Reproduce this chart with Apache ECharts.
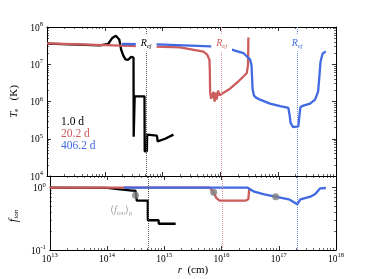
<!DOCTYPE html>
<html><head><meta charset="utf-8">
<script src="https://cdn.jsdelivr.net/npm/echarts@6/dist/echarts.min.js"></script>
<style>html,body{margin:0;padding:0;background:#fff}#c{width:374px;height:279px}</style>
</head><body><div id="c"></div>
<script>
// ---- data ----
const seriesNames = ['1.0 d', '20.2 d', '406.2 d'];
const rBlackT = [1e13, 8.3e13, 1.15e14, 1.35e14, 1.55e14, 1.78e14, 1.92e14, 2.09e14, 2.28e14, 2.54e14, 2.86e14, 3.14e14, 3.16e14, 3.29e14, 4.86e14, 4.9e14, 5.35e14, 5.4e14, 7.96e14, 8.22e14, 1.11e15, 1.54e15];
const TBlack = [3.6e7, 3.2e7, 3.55e7, 5.1e7, 5.8e7, 4.6e7, 2.45e7, 1.7e7, 1.35e7, 1.32e7, 1.58e7, 1.5e7, 1.14e5, 1.38e6, 1.38e6, 4.6e4, 4.6e4, 1.29e5, 1.21e5, 8.5e4, 1.0e5, 1.29e5];
const rRedT = [1e13, 2.0e15, 5.1e15, 5.9e15, 6.46e15, 6.56e15, 6.64e15, 6.92e15, 7.28e15, 7.59e15, 7.94e15, 8.26e15, 8.61e15, 9.12e15, 9.62e15, 1.03e16, 1.47e16, 2.02e16, 2.57e16, 2.86e16, 3.01e16, 3.05e16];
const TRed = [3.63e7, 2.84e7, 2.17e7, 1.81e7, 1.33e7, 7.1e6, 1.73e6, 1.19e6, 1.12e6, 1.82e6, 9.9e5, 1.73e6, 1.12e6, 1.95e6, 1.48e6, 1.51e6, 2.21e6, 3.4e6, 4.93e6, 5.83e6, 9.8e6, 5.25e7];
const rBlueT = [1.98e14, 7.96e14, 6.82e15, 1.57e16, 2.5e16, 3.27e16, 3.45e16, 3.5e16, 3.6e16, 3.8e16, 4.14e16, 4.85e16, 7.23e16, 1.08e17, 1.5e17, 1.57e17, 1.64e17, 1.81e17, 1.95e17, 2.23e17, 2.34e17, 2.43e17, 2.72e17, 3.56e17, 4.34e17, 4.9e17, 5.19e17, 5.4e17, 5.85e17, 6.64e17];
const TBlue = [3.5e7, 3.41e7, 3.01e7, 2.46e7, 2.0e7, 1.33e7, 9.5e6, 6.0e6, 2.2e6, 1.45e6, 1.27e6, 1.12e6, 8.75e5, 7.5e5, 6.71e5, 4.44e5, 2.65e5, 2.05e5, 1.95e5, 2.15e5, 4.44e5, 7.13e5, 7.73e5, 8.75e5, 1.12e6, 1.84e6, 5.25e6, 1.17e7, 1.92e7, 2.21e7];

const rBlackF = [1e13, 1e14, 1.7e14, 2.75e14, 3.14e14, 3.3e14, 5.14e14, 5.16e14, 7.96e14, 8.0e14, 1.58e15];
const fBlack = [1.0, 0.99, 0.94, 0.9, 0.9, 0.62, 0.62, 0.30, 0.30, 0.264, 0.264];
const rRedF = [1e13, 6.2e15, 7.2e15, 8.1e15, 9.25e15, 2.67e16, 2.95e16, 3.05e16];
const fRed = [1.0, 1.0, 0.853, 0.684, 0.62, 0.62, 0.66, 0.99];
const rBlueF = [1.98e14, 2.86e16, 3.72e16, 5.6e16, 1.5e17, 1.81e17, 2.1e17, 2.39e17, 3.56e17, 4.34e17, 5.3e17, 6.64e17];
const fBlue = [1.0, 1.0, 0.863, 0.778, 0.651, 0.589, 0.542, 0.651, 0.717, 0.792, 0.978, 0.989];

const rMean = [3.14e14, 7.28e15, 8.83e16];
const fMean = [0.755, 0.843, 0.717];
const rEj = [5.2e14, 1.05e16, 2.13e17];
const rejLabelT = 3.72e7;

// ---- styles ----
const colors = ['#000000', '#cd5c5c', '#4169e1'];
const FONT = 'Liberation Serif';
const zip = (a, b) => a.map((v, i) => [v, b[i]]);

function powLabel(v) {
  const e = Math.log10(v), r = Math.round(e);
  if (Math.abs(e - r) > 1e-6) return '';
  return '{b|10}{s|' + (r < 0 ? '-' + (-r) : r) + '}';
}
const labelRich = {
  b: {fontFamily: FONT, fontSize: 9.5, color: '#000', verticalAlign: 'bottom'},
  s: {fontFamily: FONT, fontSize: 6.5, color: '#000', verticalAlign: 'bottom', padding: [0, 0, 5, 0]}
};
function axisBase(extra) {
  return Object.assign({
    type: 'log', logBase: 10,
    axisLine: {show: true, onZero: false, lineStyle: {color: '#000', width: 1}},
    axisTick: {show: true, inside: true, length: 4, lineStyle: {color: '#000', width: 0.8}},
    minorTick: {show: true, splitNumber: 9, length: 2, lineStyle: {color: '#000', width: 0.6}},
    splitLine: {show: false}, minorSplitLine: {show: false},
    axisLabel: {show: false}
  }, extra);
}
const showLab = (margin) => ({show: true, margin: margin, formatter: powLabel, rich: labelRich, showMinLabel: true, showMaxLabel: true});

const xAxis = [
  axisBase({gridIndex: 0, position: 'bottom', min: 1e13, max: 1e18}),
  axisBase({gridIndex: 0, position: 'top', min: 1e13, max: 1e18}),
  axisBase({gridIndex: 1, position: 'bottom', min: 1e13, max: 1e18, axisLabel: showLab(2),
    name: '{i|r}  (cm)', nameLocation: 'middle', nameGap: 15,
    nameTextStyle: {fontFamily: FONT, fontSize: 11, color: '#000', rich: {i: {fontFamily: FONT, fontStyle: 'italic', fontSize: 11}}}}),
  axisBase({gridIndex: 1, position: 'top', min: 1e13, max: 1e18})
];
const yAxis = [
  axisBase({gridIndex: 0, position: 'left', min: 1e4, max: 1e8, axisLabel: showLab(4),
    name: '{i|T}{sub|e}   (K)', nameLocation: 'middle', nameGap: 23, nameRotate: 90,
    nameTextStyle: {fontFamily: FONT, fontSize: 11, color: '#000', rich: {
      i: {fontFamily: FONT, fontStyle: 'italic', fontSize: 11},
      sub: {fontFamily: FONT, fontSize: 7, verticalAlign: 'bottom', padding: [4, 0, 0, 0]}}}}),
  axisBase({gridIndex: 0, position: 'right', min: 1e4, max: 1e8}),
  axisBase({gridIndex: 1, position: 'left', min: 0.1, max: 1.54, axisLabel: showLab(4),
    name: '{i|f}{sub|ion}', nameLocation: 'middle', nameGap: 22, nameRotate: 90,
    nameTextStyle: {fontFamily: FONT, fontSize: 11, color: '#000', padding: [0, 0, 0, -6], rich: {
      i: {fontFamily: FONT, fontStyle: 'italic', fontSize: 12},
      sub: {fontFamily: FONT, fontStyle: 'italic', fontSize: 7, verticalAlign: 'bottom', padding: [4, 0, 0, 0]}}}}),
  axisBase({gridIndex: 1, position: 'right', min: 0.1, max: 1.54})
];

const rejRich = {
  i: {fontFamily: FONT, fontStyle: 'italic', fontSize: 10},
  sub: {fontFamily: FONT, fontStyle: 'italic', fontSize: 6.5, verticalAlign: 'top', padding: [5, 0, 0, 0]}
};
const rejLineColors = ['#555555', '#e49a9a', '#6f8ee8'];

const series = [];
const Tdata = [zip(rBlackT, TBlack), zip(rRedT, TRed), zip(rBlueT, TBlue)];
const Fdata = [zip(rBlackF, fBlack), zip(rRedF, fRed), zip(rBlueF, fBlue)];
for (let k = 0; k < 3; k++) {
  series.push({
    name: seriesNames[k], type: 'line', xAxisIndex: 0, yAxisIndex: 0,
    data: Tdata[k], showSymbol: false, symbol: 'none', animation: false, z: 2 + k * 0.01,
    lineStyle: {color: colors[k], width: 2.3}, itemStyle: {color: colors[k]},
    markLine: {silent: true, symbol: 'none', animation: false, label: {show: false},
      lineStyle: {color: rejLineColors[k], type: 'dotted', width: 1},
      data: [{xAxis: rEj[k]}]},
    markPoint: {silent: true, animation: false, symbol: 'rect', symbolSize: 1,
      itemStyle: {color: 'rgba(0,0,0,0)'},
      label: {show: true, position: 'inside', formatter: '{i|R}{sub|ej}', color: colors[k],
        backgroundColor: '#ffffff', padding: [3, 5, 2, 5], rich: rejRich},
      data: [{coord: [rEj[k], rejLabelT]}]}
  });
}
for (let k = 0; k < 3; k++) {
  series.push({
    name: seriesNames[k], type: 'line', xAxisIndex: 2, yAxisIndex: 2,
    data: Fdata[k], showSymbol: false, symbol: 'none', animation: false,
    lineStyle: {color: colors[k], width: 2.3}, itemStyle: {color: colors[k]},
    markLine: {silent: true, symbol: 'none', animation: false, label: {show: false},
      lineStyle: {color: rejLineColors[k], type: 'dotted', width: 1},
      data: [{xAxis: rEj[k]}]}
  });
}
series.push({
  name: 'mean', type: 'scatter', xAxisIndex: 2, yAxisIndex: 2, symbolSize: 7, z: 6,
  animation: false, itemStyle: {color: '#808080'},
  data: rMean.map((r, i) => {
    const d = {value: [r, fMean[i]]};
    if (i === 0) d.label = {show: true, position: [-11, 19], align: 'center', verticalAlign: 'middle',
      color: '#8a8a8a', fontFamily: FONT, fontSize: 10,
      formatter: '⟨{i|f}{sub|ion}⟩{sub|ρ}',
      rich: {i: {fontFamily: FONT, fontStyle: 'italic', fontSize: 10, color: '#8a8a8a'},
             sub: {fontFamily: FONT, fontStyle: 'italic', fontSize: 6.5, color: '#8a8a8a', verticalAlign: 'top', padding: [5, 0, 0, 0]}}};
    return d;
  })
});

const chart = echarts.init(document.getElementById('c'), null, {renderer: 'canvas'});
chart.setOption({
  animation: false,
  backgroundColor: '#fff',
  grid: [
    {left: 47, right: 38, top: 27, height: 149},
    {left: 47, right: 38, top: 176, height: 74}
  ],
  legend: {
    orient: 'vertical', left: 56, top: 116, icon: 'none', itemWidth: 0, itemHeight: 9, itemGap: 0,
    padding: 0, selectedMode: false,
    textStyle: {fontFamily: FONT, fontSize: 11.5, lineHeight: 11},
    data: seriesNames.map((n, i) => ({name: n, textStyle: {color: colors[i]}}))
  },
  xAxis: xAxis,
  yAxis: yAxis,
  series: series
});
</script>
</body></html>
